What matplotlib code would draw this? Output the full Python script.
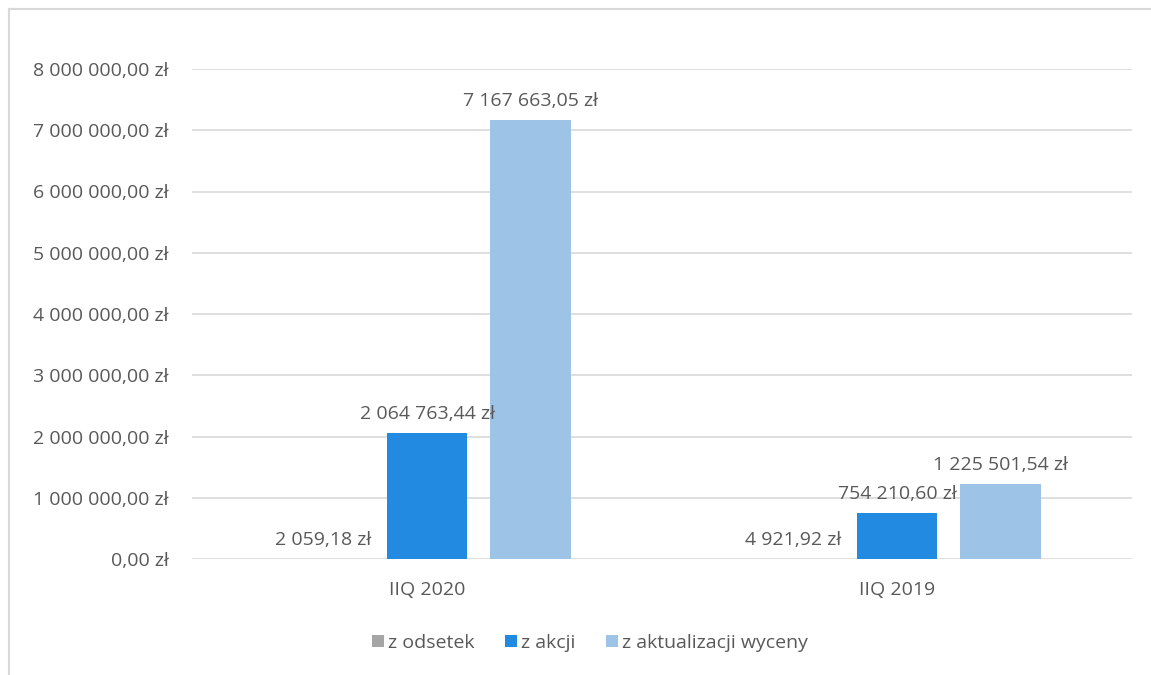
import matplotlib
matplotlib.use("Agg")
import matplotlib.pyplot as plt
from matplotlib.lines import Line2D
from matplotlib.ticker import FuncFormatter
import numpy as np

categories = ["IIQ 2020", "IIQ 2019"]
series_names = ["z odsetek", "z akcji", "z aktualizacji wyceny"]
odsetek = [2059.18, 4921.92]
akcji = [2064763.44, 754210.60]
aktualizacji = [7167663.05, 1225501.54]
yticks = [0, 1000000, 2000000, 3000000, 4000000, 5000000, 6000000, 7000000, 8000000]

colors = ["#A5A5A5", "#228AE0", "#9DC3E6"]
text_color = "#595959"
plt.rcParams['font.family'] = ['Open Sans', 'DejaVu Sans']
FS = 14


def pl_fmt(v):
    s = f"{v:,.2f}"
    s = s.replace(",", " ").replace(".", ",")
    return s + " zł"


fig = plt.figure(figsize=(11.51, 6.75), dpi=100)
ax = fig.add_axes([192 / 1151, 1 - 559 / 675, 940 / 1151, 490 / 675])

x = np.arange(len(categories))
width = 0.172
step = 0.221
all_series = [odsetek, akcji, aktualizacji]
for i, (vals, name, c) in enumerate(zip(all_series, series_names, colors)):
    pos = x + (i - 1) * step
    ax.bar(pos, vals, width, color=c, label=name, zorder=3)
    for p, v in zip(pos, vals):
        ax.annotate(pl_fmt(v), (p, v), xytext=(0, 7), textcoords="offset points",
                    ha="center", va="bottom", fontsize=FS, color=text_color,
                    zorder=6)

ax.set_xlim(-0.5, 1.5)
ax.set_ylim(0, 8000000)
ax.set_yticks(yticks)
ax.yaxis.set_major_formatter(FuncFormatter(lambda v, p: pl_fmt(v)))
ax.set_xticks(x)
ax.set_xticklabels(categories)
ax.grid(axis="y", color="#D9D9D9", linewidth=1.2, zorder=0)
ax.tick_params(axis="both", length=0, labelsize=FS, labelcolor=text_color)
ax.tick_params(axis="y", pad=17)
ax.tick_params(axis="x", pad=16)
for s in ax.spines.values():
    s.set_visible(False)

fig.legend(loc="center", bbox_to_anchor=(590 / 1151, 1 - 643 / 675), ncol=3,
           frameon=False, fontsize=FS, labelcolor=text_color, handlelength=0.6,
           handleheight=0.6, handletextpad=0.2, columnspacing=1.6)

fig.add_artist(Line2D([8.5 / 1151, 8.5 / 1151], [0, 1 - 9 / 675], color="#D9D9D9", linewidth=1.5))
fig.add_artist(Line2D([8.5 / 1151, 1], [1 - 9 / 675, 1 - 9 / 675], color="#D9D9D9", linewidth=1.5))

fig.savefig("out.png", dpi=100, facecolor="white")
